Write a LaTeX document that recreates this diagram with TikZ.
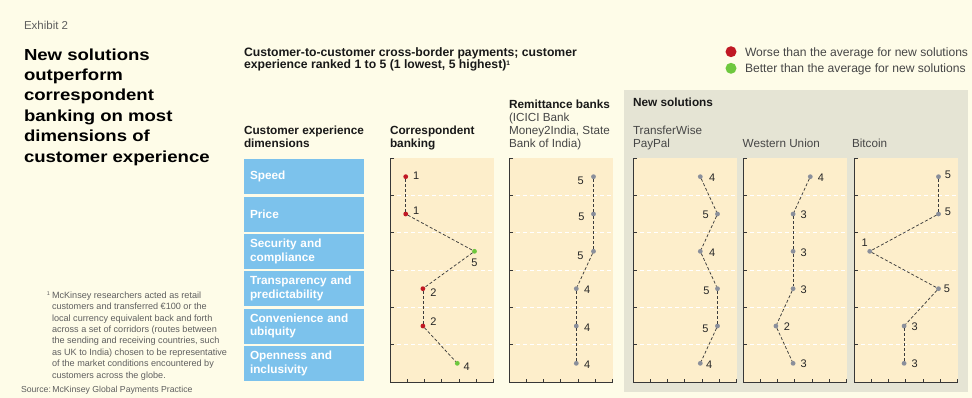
\documentclass[tikz,border=0pt]{standalone}
\usepackage{fontspec}
\setmainfont{Liberation Sans}
\newfontfamily\titlefont[FakeStretch=1.16]{Liberation Sans}
\definecolor{bgcream}{RGB}{254,252,232}
\definecolor{panelfill}{RGB}{253,238,203}
\definecolor{newgray}{RGB}{229,228,212}
\definecolor{boxblue}{RGB}{124,194,236}
\definecolor{worsered}{RGB}{192,24,36}
\definecolor{bettergreen}{RGB}{110,200,62}
\definecolor{dotgray}{RGB}{138,143,155}
\definecolor{axisgray}{RGB}{55,55,55}
\definecolor{subgray}{RGB}{70,70,70}
\definecolor{notegray}{RGB}{95,95,95}
\definecolor{conngray}{RGB}{60,60,60}
\tikzset{
  every node/.style={inner sep=0pt, outer sep=0pt},
  exh/.style={font=\fontsize{11.5}{13}\selectfont, text=notegray},
  ttl/.style={anchor=north west, align=left, font={\titlefont\bfseries\fontsize{16}{20.4}\selectfont}},
  sub/.style={anchor=north west, align=left, font={\bfseries\fontsize{12.2}{12.5}\selectfont}, text=black!90},
  legtxt/.style={anchor=base west, font=\fontsize{12.1}{13}\selectfont, text=subgray},
  legdot/.style={circle, minimum size=11pt},
  hdr/.style={anchor=north west, align=left, font={\bfseries\fontsize{11.8}{13.3}\selectfont}, text=black!90},
  hdrsub/.style={anchor=north west, align=left, font={\fontsize{11.7}{13.1}\selectfont}, text=subgray},
  note/.style={anchor=north west, align=left, font={\fontsize{9.1}{11.4}\selectfont}, text=notegray},
  srcnote/.style={anchor=base west, font={\fontsize{8.7}{10}\selectfont}, text=notegray},
  dimbox/.style={fill=boxblue, minimum width=120pt, minimum height=35pt, text width=108pt,
    inner xsep=6pt, inner ysep=0pt, align=left, text=white, font={\bfseries\fontsize{11.8}{13.5}\selectfont}},
  dot/.style={circle, minimum size=4.8pt},
  val/.style={font=\fontsize{11}{12}\selectfont, text=black!85},
  conn/.style={draw=conngray, line width=0.75pt, dash pattern=on 3pt off 2pt},
  gridl/.style={draw=white, line width=0.9pt, dash pattern=on 4pt off 3pt},
  axisl/.style={draw=axisgray, line width=0.8pt},
}
\newcommand\chartpanel[1]{%
  \fill[panelfill] (#1,158) rectangle ++(103.5,224);
  \foreach \k in {1,...,5} {\draw[gridl] (#1,{158+37.333*\k}) -- ++(103.5,0);}
  \draw[axisl] (#1+4,158) -- (#1,158) -- (#1,382) -- (#1+103.5,382);
  \foreach \k in {1,...,5} {\draw[axisl] (#1,{158+37.333*\k}) -- ++(4,0);}
  \foreach \k in {1,...,6} {\draw[axisl] ({#1+17.25*\k},382) -- ++(0,-3);}
}
\newcommand\datapoints[3]{%
  \foreach \row/\val/\col/\dx/\dy in {#3} {
    \node[dot, fill=\col] (#1-\row) at ({#2+17.2*\val-1.5},{176.67+37.333*(\row-1)}) {};
    \node[val] (#1-v\row) at ({#2+17.2*\val-1.5+\dx},{176.67+37.333*(\row-1)+\dy}) {\val};
  }
  \foreach \row [evaluate=\row as \nxt using int(\row+1)] in {1,...,5} {\draw[conn] (#1-\row) -- (#1-\nxt);}
}
\begin{document}
\begin{tikzpicture}[x=1pt,y=-1pt]
\useasboundingbox (0,0) rectangle (972,398);
\fill[bgcream] (0,0) rectangle (972,398);
\fill[newgray] (624,90) rectangle (968,392);

% title block
\node[exh, anchor=base west] (exhibit) at (24,30) {Exhibit 2};
\node[ttl] (title) at (24,48.5) {New solutions\\outperform\\correspondent\\banking on most\\dimensions of\\customer experience};

% footnote
\node[note] (footnote) at (52,291.8) {\llap{\raisebox{2.6pt}{\fontsize{5.5}{6}\selectfont 1}\hspace{2pt}}McKinsey researchers acted as retail\\customers and transferred €100 or the\\local currency equivalent back and forth\\across a set of corridors (routes between\\the sending and receiving countries, such\\as UK to India) chosen to be representative\\of the market conditions encountered by\\customers across the globe.};
\node[srcnote] (source) at (21,392.3) {Source:};
\node[srcnote] (sourcetxt) at (52.3,392.3) {McKinsey Global Payments Practice};

% subtitle
\node[sub] (subtitle) at (244,47.2) {Customer-to-customer cross-border payments; customer\\experience ranked 1 to 5 (1 lowest, 5 highest)\raisebox{3.2pt}{\fontsize{6.5}{7}\selectfont 1}};

% legend
\node[legdot, fill=worsered] (legw) at (731,51.7) {};
\node[legtxt] (legwt) at (745,56.3) {Worse than the average for new solutions};
\node[legdot, fill=bettergreen] (legb) at (731,68.3) {};
\node[legtxt] (legbt) at (745,72.6) {Better than the average for new solutions};

% column headers
\node[hdr] (hdim) at (244,125.5) {Customer experience\\dimensions};
\node[hdr] (hcor) at (390,125.5) {Correspondent\\banking};
\node[hdr, anchor=base west] (hrem) at (509,108.4) {Remittance banks};
\node[hdrsub] (hremsub) at (509,112.8) {(ICICI Bank\\Money2India, State\\Bank of India)};
\node[hdr, anchor=base west] (hnew) at (633,107) {New solutions};
\node[hdrsub] (htw) at (633,125.9) {TransferWise\\PayPal};
\node[hdrsub, anchor=base west] (hwu) at (742.7,147.6) {Western Union};
\node[hdrsub, anchor=base west] (hbit) at (852,147.6) {Bitcoin};

% dimension boxes
\foreach \i/\t in {1/Speed, 2/Price, 3/Security and\\compliance, 4/Transparency and\\predictability, 5/Convenience and\\ubiquity, 6/Openness and\\inclusivity} {
  \node[dimbox] (dim\i) at (304,{176.67+37.333*(\i-1)}) {\t};
}

% chart panels
\chartpanel{390}
\chartpanel{509}
\chartpanel{633}
\chartpanel{743}
\chartpanel{854}

\datapoints{cor}{390}{1/1/worsered/10.5/-1, 2/1/worsered/10.5/-3.5, 3/5/bettergreen/0/11, 4/2/worsered/10.6/4, 5/2/worsered/10.6/-4, 6/4/bettergreen/9.5/3}
\datapoints{rem}{509}{1/5/dotgray/-12.7/3.7, 2/5/dotgray/-12/3, 3/5/dotgray/-13/4, 4/4/dotgray/11/1.3, 5/4/dotgray/11/1.3, 6/4/dotgray/11/1}
\datapoints{tw}{633}{1/4/dotgray/12/0.6, 2/5/dotgray/-11.7/1, 3/4/dotgray/12/1.5, 4/5/dotgray/-11/2, 5/5/dotgray/-12/2.3, 6/4/dotgray/9/1}
\datapoints{wu}{743}{1/4/dotgray/10.5/0.6, 2/3/dotgray/10.5/1, 3/3/dotgray/10.5/1.4, 4/3/dotgray/10.5/0.6, 5/2/dotgray/11/0.7, 6/3/dotgray/10.5/0.7}
\datapoints{bit}{854}{1/5/dotgray/9.5/-2, 2/5/dotgray/9.5/-2.5, 3/1/dotgray/-5/-9, 4/5/dotgray/8.5/0.5, 5/3/dotgray/10.5/0.7, 6/3/dotgray/10.5/0.7}
\end{tikzpicture}
\end{document}
